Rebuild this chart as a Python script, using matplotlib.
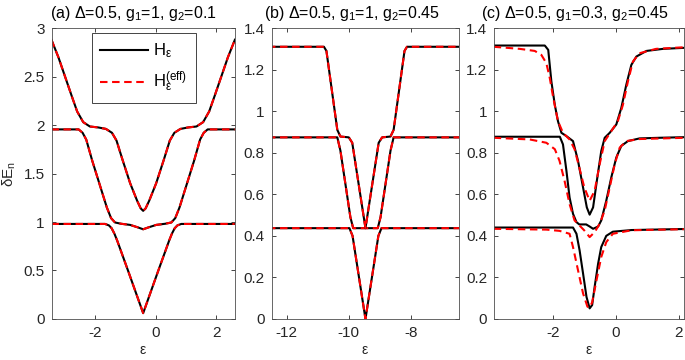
import matplotlib
matplotlib.use("Agg")
import matplotlib.pyplot as plt

plt.rcParams['font.family'] = ['Liberation Sans', 'DejaVu Sans']
plt.rcParams['mathtext.fontset'] = 'custom'
plt.rcParams['mathtext.rm'] = 'Liberation Sans'
plt.rcParams['mathtext.it'] = 'Liberation Sans'
plt.rcParams['mathtext.fallback'] = 'stix'

# ---- panel (a): Delta=0.5, g1=1, g2=0.1 (H and H_eff coincide)
a1_x = [-3.45, -1.68, -1.55, -1.46, -1.37, -1.28, -0.91, -0.50, -0.42, -0.34, 0.07, 0.44, 0.53, 0.62, 0.71, 0.84, 2.6]
a1_y = [0.98, 0.98, 0.965, 0.935, 0.88, 0.81, 0.49, 0.13, 0.06, 0.13, 0.49, 0.81, 0.88, 0.935, 0.965, 0.98, 0.98]
a2_x = [-3.45, -2.55, -2.42, -2.30, -2.10, -1.85, -1.62, -1.48, -1.35, -1.15, -0.85, -0.60, -0.42,
        -0.24, 0.01, 0.31, 0.51, 0.64, 0.78, 1.01, 1.26, 1.46, 1.58, 1.71, 2.6]
a2_y = [1.955, 1.955, 1.92, 1.85, 1.63, 1.38, 1.15, 1.04, 0.995, 0.982, 0.97, 0.945, 0.925,
        0.945, 0.97, 0.982, 0.995, 1.04, 1.15, 1.38, 1.63, 1.85, 1.92, 1.955, 1.955]
a3_x = [-3.45, -3.22, -3.0, -2.78, -2.60, -2.40, -2.18, -1.90, -1.65, -1.45, -1.30, -1.10, -0.85, -0.62, -0.50, -0.42,
        -0.34, -0.22, 0.01, 0.26, 0.46, 0.61, 0.81, 1.06, 1.34, 1.56, 1.76, 1.94, 2.16, 2.38, 2.61]
a3_y = [2.88, 2.70, 2.50, 2.30, 2.14, 2.03, 1.985, 1.975, 1.96, 1.92, 1.84, 1.64, 1.40, 1.22, 1.14, 1.115,
        1.14, 1.22, 1.40, 1.64, 1.84, 1.92, 1.96, 1.975, 1.985, 2.03, 2.14, 2.30, 2.50, 2.70, 2.88]

# ---- panel (b): Delta=0.5, g1=1, g2=0.45 (H and H_eff coincide)
b1_x = [-12.6, -9.98, -9.88, -9.465, -9.05, -8.95, -6.3]
b1_y = [0.437, 0.437, 0.40, 0.0, 0.40, 0.437, 0.437]
b2_x = [-12.6, -10.37, -10.27, -10.11, -9.95, -9.86, -9.07, -8.98, -8.82, -8.66, -8.56, -6.3]
b2_y = [0.874, 0.874, 0.81, 0.65, 0.49, 0.437, 0.437, 0.49, 0.65, 0.81, 0.874, 0.874]
b3_x = [-12.6, -10.80, -10.72, -10.37, -10.27, -10.0, -9.89, -9.465, -9.04, -8.93, -8.66, -8.56, -8.21, -8.13, -6.3]
b3_y = [1.31, 1.31, 1.29, 0.91, 0.878, 0.874, 0.848, 0.437, 0.848, 0.874, 0.878, 0.91, 1.29, 1.31, 1.31]

# ---- panel (c): Delta=0.5, g1=0.3, g2=0.45
c1_x = [-3.9, -1.37, -1.26, -1.16, -1.05, -0.94, -0.84, -0.76, -0.68, -0.57, -0.47, -0.31, -0.10, 0.5, 2.2]
c1_y = [0.44, 0.44, 0.41, 0.33, 0.219, 0.106, 0.051, 0.067, 0.155, 0.266, 0.346, 0.40, 0.42, 0.428, 0.433]
c2_x = [-3.9, -1.79, -1.69, -1.58, -1.48, -1.37, -1.26, -1.17, -0.95, -0.84, -0.73, -0.57, -0.47, -0.31, -0.15,
        0.01, 0.17, 0.38, 0.75, 1.38, 2.2]
c2_y = [0.877, 0.877, 0.84, 0.713, 0.585, 0.506, 0.466, 0.455, 0.455, 0.445, 0.434, 0.445, 0.474, 0.569, 0.681,
        0.777, 0.833, 0.856, 0.869, 0.872, 0.875]
c3_x = [-3.9, -2.27, -2.16, -2.06, -1.95, -1.85, -1.74, -1.58, -1.37, -1.21, -1.05, -0.93, -0.84, -0.73, -0.61,
        -0.47, -0.36, -0.20, 0.01, 0.17, 0.33, 0.49, 0.65, 0.97, 1.50, 2.2]
c3_y = [1.316, 1.316, 1.295, 1.143, 1.03, 0.952, 0.896, 0.88, 0.856, 0.761, 0.633, 0.537, 0.502, 0.537, 0.665,
        0.808, 0.872, 0.896, 0.936, 1.016, 1.128, 1.223, 1.263, 1.290, 1.30, 1.305]

c1e_x = [-3.9, -2.22, -1.80, -1.48, -1.37, -1.21, -1.05, -0.91, -0.84, -0.76, -0.62, -0.47, -0.31, -0.10, 0.5, 2.2]
c1e_y = [0.434, 0.43, 0.424, 0.41, 0.346, 0.234, 0.123, 0.059, 0.055, 0.08, 0.187, 0.298, 0.37, 0.41, 0.427, 0.432]
c2e_x = [-3.9, -2.75, -2.22, -1.95, -1.80, -1.64, -1.48, -1.32, -1.17, -1.01, -0.84, -0.68, -0.52, -0.36, -0.20,
         -0.04, 0.12, 0.33, 0.75, 2.2]
c2e_y = [0.872, 0.864, 0.848, 0.817, 0.761, 0.665, 0.553, 0.474, 0.451, 0.426, 0.394, 0.418, 0.458, 0.522, 0.633,
         0.745, 0.825, 0.856, 0.866, 0.872]
c3e_x = [-3.9, -3.07, -2.59, -2.38, -2.22, -2.11, -2.00, -1.85, -1.69, -1.48, -1.32, -1.17, -1.01, -0.84, -0.68,
         -0.52, -0.36, -0.15, 0.06, 0.22, 0.38, 0.54, 0.75, 1.28, 2.2]
c3e_y = [1.31, 1.30, 1.29, 1.271, 1.231, 1.159, 1.064, 0.952, 0.896, 0.864, 0.817, 0.729, 0.633, 0.569, 0.617,
         0.745, 0.856, 0.904, 0.952, 1.03, 1.143, 1.239, 1.279, 1.30, 1.308]

titles = [r'(a) $\Delta$=0.5, g$_1$=1, g$_2$=0.1',
          r'(b) $\Delta$=0.5, g$_1$=1, g$_2$=0.45',
          r'(c) $\Delta$=0.5, g$_1$=0.3, g$_2$=0.45']
title_x = [0.444, 0.429, 0.425]

fig = plt.figure(figsize=(6.85, 3.6), dpi=100)
bot, hgt = 0.114, 0.808
ax_a = fig.add_axes([0.0755, bot, 0.267, hgt])
ax_b = fig.add_axes([0.3966, bot, 0.2734, hgt])
ax_c = fig.add_axes([0.7216, bot, 0.2770, hgt])

dash = (0, (3.6, 2.2))
txt = '#262626'

# H lines (black) then H_eff (red dashed)
for x, y in [(a1_x, a1_y), (a2_x, a2_y), (a3_x, a3_y)]:
    ax_a.plot(x, y, color='k', lw=1.5)
    ax_a.plot(x, y, color='r', lw=1.5, ls=dash)
for x, y in [(b1_x, b1_y), (b2_x, b2_y), (b3_x, b3_y)]:
    ax_b.plot(x, y, color='k', lw=1.5)
    ax_b.plot(x, y, color='r', lw=1.5, ls=dash)
for x, y in [(c1_x, c1_y), (c2_x, c2_y), (c3_x, c3_y)]:
    ax_c.plot(x, y, color='k', lw=1.5)
for x, y in [(c1e_x, c1e_y), (c2e_x, c2e_y), (c3e_x, c3e_y)]:
    ax_c.plot(x, y, color='r', lw=1.5, ls=dash)

ax_a.set_xlim(-3.44, 2.6)
ax_a.set_ylim(0, 3)
ax_a.set_xticks([-2, 0, 2])
ax_a.set_yticks([0, 0.5, 1, 1.5, 2, 2.5, 3])
ax_a.set_yticklabels(['0', '0.5', '1', '1.5', '2', '2.5', '3'])

ax_b.set_xlim(-12.48, -6.46)
ax_b.set_ylim(0, 1.4)
ax_b.set_xticks([-12, -10, -8])
ax_b.set_yticks([0, 0.2, 0.4, 0.6, 0.8, 1, 1.2, 1.4])
ax_b.set_yticklabels(['0', '0.2', '0.4', '0.6', '0.8', '1', '1.2', '1.4'])

ax_c.set_xlim(-3.88, 2.17)
ax_c.set_ylim(0, 1.4)
ax_c.set_xticks([-2, 0, 2])
ax_c.set_yticks([0, 0.2, 0.4, 0.6, 0.8, 1, 1.2, 1.4])
ax_c.set_yticklabels(['0', '0.2', '0.4', '0.6', '0.8', '1', '1.2', '1.4'])

for ax, t, tx in zip([ax_a, ax_b, ax_c], titles, title_x):
    ax.text(tx, 1.018, t, transform=ax.transAxes, ha='center', va='bottom', fontsize=11.5, color='k')
    ax.set_xlabel(r'$\epsilon$', fontsize=10, color=txt, labelpad=2)
    ax.tick_params(direction='in', top=True, right=True, length=3, width=0.6,
                   labelsize=11, colors=txt, pad=5)
    ax.set_xticklabels([str(v) if v >= 0 else '-' + str(-v) for v in ax.get_xticks().astype(int)])
    for s in ax.spines.values():
        s.set_color('#4d4d4d')
        s.set_linewidth(0.6)

ax_a.set_ylabel(r'$\delta$E$_n$', fontsize=11, color=txt, labelpad=4)

leg = ax_a.legend([ax_a.lines[0], ax_a.lines[1]],
                  [r'H$_\epsilon$', r'H$_\epsilon^{(eff)}$'],
                  loc='upper left', bbox_to_anchor=(0.219, 0.983), borderaxespad=0,
                  fontsize=12, handlelength=2.9, fancybox=False, framealpha=1,
                  edgecolor='#262626', labelspacing=0.6, borderpad=0.5, handletextpad=0.3)
leg.get_frame().set_linewidth(0.6)

fig.savefig('out.png', dpi=100)
